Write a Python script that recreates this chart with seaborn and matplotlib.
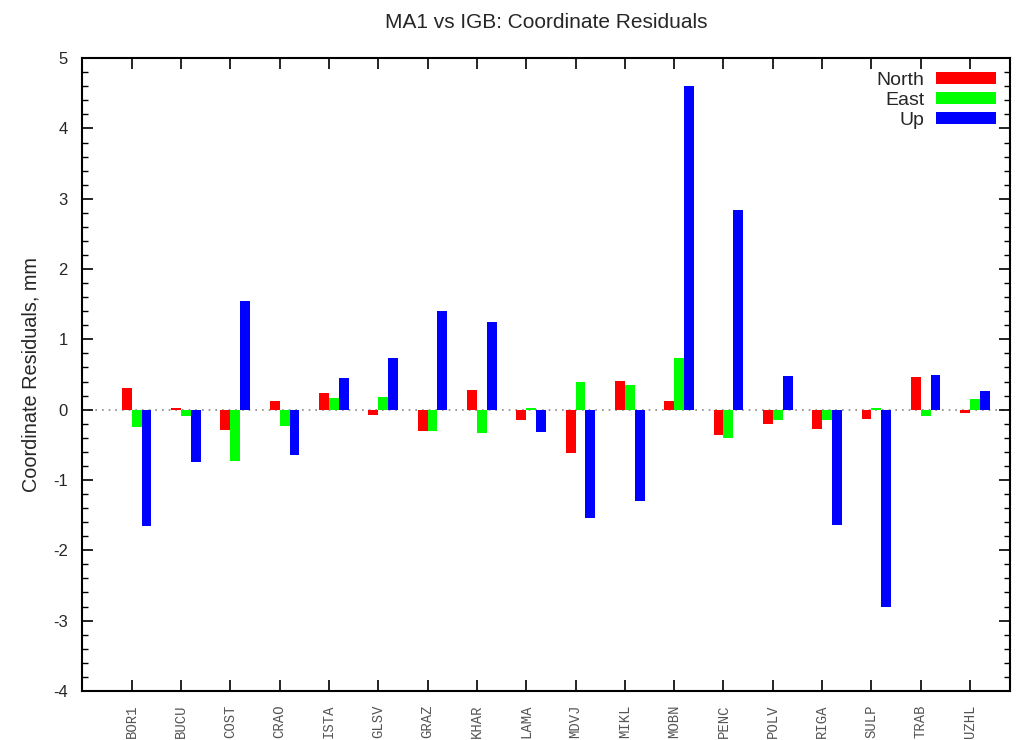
import matplotlib
matplotlib.use("Agg")
import matplotlib.pyplot as plt
import seaborn as sns
import pandas as pd
import numpy as np
from matplotlib.ticker import MultipleLocator

stations = ["BOR1", "BUCU", "COST", "CRAO", "ISTA", "GLSV", "GRAZ", "KHAR", "LAMA",
            "MDVJ", "MIKL", "MOBN", "PENC", "POLV", "RIGA", "SULP", "TRAB", "UZHL"]
north = [0.31, 0.02, -0.29, 0.12, 0.23, -0.07, -0.31, 0.28, -0.15,
         -0.61, 0.41, 0.12, -0.36, -0.20, -0.27, -0.13, 0.46, -0.05]
east = [-0.24, -0.085, -0.73, -0.23, 0.16, 0.185, -0.30, -0.33, 0.025,
        0.39, 0.35, 0.74, -0.40, -0.14, -0.15, 0.02, -0.095, 0.15]
up = [-1.65, -0.75, 1.54, -0.65, 0.45, 0.73, 1.40, 1.24, -0.32,
      -1.54, -1.30, 4.61, 2.84, 0.48, -1.645, -2.80, 0.50, 0.27]
components = ["North", "East", "Up"]
colors = ["#ff0000", "#00ff00", "#0000ff"]

df = pd.DataFrame({
    "station": stations * 3,
    "value": north + east + up,
    "component": [c for c in components for _ in stations],
})

sns.set_style("white")
plt.rcParams["font.family"] = ["Liberation Sans", "DejaVu Sans"]
plt.rcParams["axes.unicode_minus"] = False

fig = plt.figure(figsize=(10.16, 7.4), dpi=100)
ax = fig.add_axes([0.0804, 0.0664, 0.9137, 0.855])

sns.barplot(data=df, x="station", y="value", hue="component", palette=colors,
            width=0.6, dodge=True, ax=ax, linewidth=0, saturation=1, legend=True,
            order=stations, hue_order=components)

ax.axhline(0, color="#888888", lw=1.2, ls=(0, (1, 3)), zorder=0)

n = len(stations)
ax.set_xlim(-1.114, 17.71)
ax.set_ylim(-4, 5)
ax.set_xticks(np.arange(n) - 0.1)
ax.set_xticklabels(stations, rotation=90, fontfamily="Liberation Mono",
                   fontsize=10, color="#555555")
ax.yaxis.set_major_locator(MultipleLocator(1))
ax.yaxis.set_minor_locator(MultipleLocator(0.2))
ax.tick_params(axis="both", which="major", direction="in", length=8, width=1.2,
               top=True, right=True, bottom=True, left=True, color="black")
ax.tick_params(axis="y", which="minor", direction="in", length=4, width=1.0,
               left=True, right=True, color="black")
ax.tick_params(axis="x", pad=10)
ax.tick_params(axis="y", pad=10, labelsize=12)
for lbl in ax.get_yticklabels():
    lbl.set_fontfamily("Liberation Sans")

for sp in ax.spines.values():
    sp.set_visible(True)
    sp.set_color("black")
    sp.set_linewidth(1.5)

ax.set_xlabel("")
ax.set_ylabel("Coordinate Residuals, mm", fontsize=14.3, labelpad=9)
ax.set_title("MA1 vs IGB: Coordinate Residuals", fontsize=15, pad=22)

handles, labels = ax.get_legend_handles_labels()
leg = ax.legend(handles, labels, loc="upper right", frameon=False, markerfirst=False,
                fontsize=14, handlelength=3.1, handleheight=0.6, labelspacing=0.15,
                handletextpad=0.6, borderaxespad=0.3, bbox_to_anchor=(1.0, 1.0))

fig.savefig("out.png", dpi=100)
